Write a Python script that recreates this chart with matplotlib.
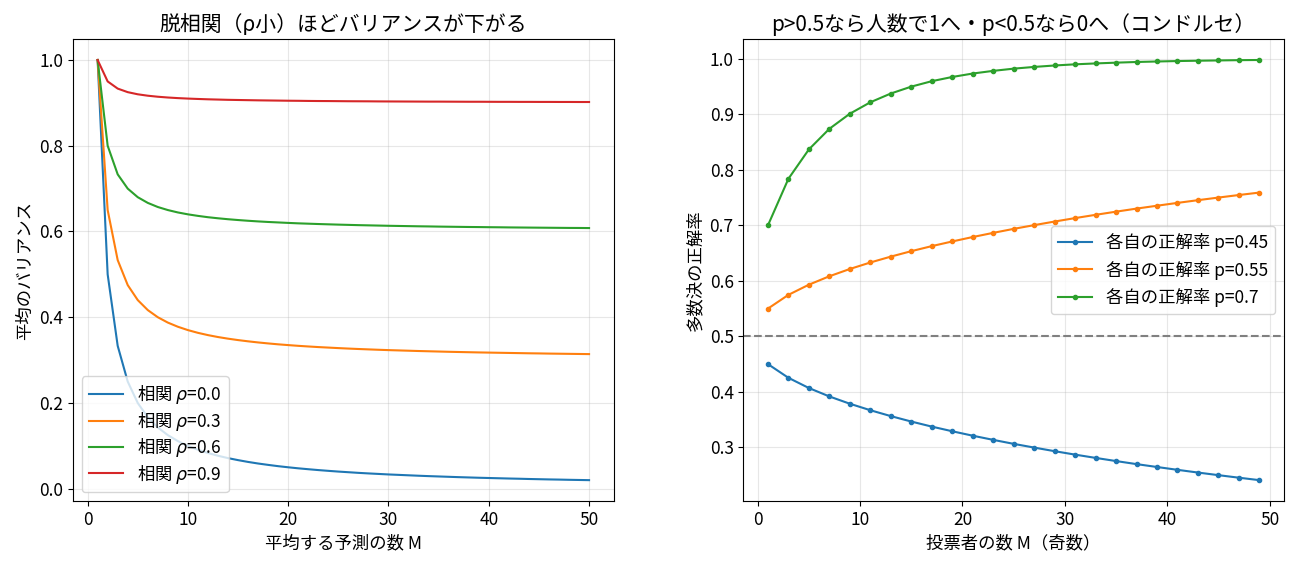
import numpy as np
import matplotlib.pyplot as plt

plt.rcParams['font.family'] = ['Noto Sans CJK JP', 'DejaVu Sans']
plt.rcParams['font.size'] = 12.5
plt.rcParams['axes.unicode_minus'] = False

# 左: 平均する予測の数 M と平均のバリアンス
M = list(range(1, 51))
rhos = [0.0, 0.3, 0.6, 0.9]
var_rho00 = [1.0, 0.5, 0.3333, 0.25, 0.2, 0.1667, 0.1429, 0.125, 0.1111, 0.1,
             0.0909, 0.0833, 0.0769, 0.0714, 0.0667, 0.0625, 0.0588, 0.0556, 0.0526, 0.05,
             0.0476, 0.0455, 0.0435, 0.0417, 0.04, 0.0385, 0.037, 0.0357, 0.0345, 0.0333,
             0.0323, 0.0313, 0.0303, 0.0294, 0.0286, 0.0278, 0.027, 0.0263, 0.0256, 0.025,
             0.0244, 0.0238, 0.0233, 0.0227, 0.0222, 0.0217, 0.0213, 0.0208, 0.0204, 0.02]
var_rho03 = [1.0, 0.65, 0.5333, 0.475, 0.44, 0.4167, 0.4, 0.3875, 0.3778, 0.37,
             0.3636, 0.3583, 0.3538, 0.35, 0.3467, 0.3438, 0.3412, 0.3389, 0.3368, 0.335,
             0.3333, 0.3318, 0.3304, 0.3292, 0.328, 0.3269, 0.3259, 0.325, 0.3241, 0.3233,
             0.3226, 0.3219, 0.3212, 0.3206, 0.32, 0.3194, 0.3189, 0.3184, 0.3179, 0.3175,
             0.3171, 0.3167, 0.3163, 0.3159, 0.3156, 0.3152, 0.3149, 0.3146, 0.3143, 0.314]
var_rho06 = [1.0, 0.8, 0.7333, 0.7, 0.68, 0.6667, 0.6571, 0.65, 0.6444, 0.64,
             0.6364, 0.6333, 0.6308, 0.6286, 0.6267, 0.625, 0.6235, 0.6222, 0.6211, 0.62,
             0.619, 0.6182, 0.6174, 0.6167, 0.616, 0.6154, 0.6148, 0.6143, 0.6138, 0.6133,
             0.6129, 0.6125, 0.6121, 0.6118, 0.6114, 0.6111, 0.6108, 0.6105, 0.6103, 0.61,
             0.6098, 0.6095, 0.6093, 0.6091, 0.6089, 0.6087, 0.6085, 0.6083, 0.6082, 0.608]
var_rho09 = [1.0, 0.95, 0.9333, 0.925, 0.92, 0.9167, 0.9143, 0.9125, 0.9111, 0.91,
             0.9091, 0.9083, 0.9077, 0.9071, 0.9067, 0.9063, 0.9059, 0.9056, 0.9053, 0.905,
             0.9048, 0.9045, 0.9043, 0.9042, 0.904, 0.9038, 0.9037, 0.9036, 0.9034, 0.9033,
             0.9032, 0.9031, 0.903, 0.9029, 0.9029, 0.9028, 0.9027, 0.9026, 0.9026, 0.9025,
             0.9024, 0.9024, 0.9023, 0.9023, 0.9022, 0.9022, 0.9021, 0.9021, 0.902, 0.902]
variances = [var_rho00, var_rho03, var_rho06, var_rho09]

# 右: 投票者の数（奇数）と多数決の正解率
voters = list(range(1, 50, 2))
ps = [0.45, 0.55, 0.7]
acc_p045 = [0.45, 0.4253, 0.4069, 0.3917, 0.3786, 0.3669, 0.3563, 0.3465, 0.3374, 0.329,
            0.321, 0.3135, 0.3063, 0.2996, 0.2931, 0.2869, 0.281, 0.2753, 0.2698, 0.2646,
            0.2595, 0.2546, 0.2499, 0.2453, 0.2409]
acc_p055 = [0.55, 0.5748, 0.5931, 0.6083, 0.6214, 0.6331, 0.6437, 0.6535, 0.6626, 0.671,
            0.679, 0.6865, 0.6937, 0.7004, 0.7069, 0.7131, 0.719, 0.7247, 0.7302, 0.7354,
            0.7405, 0.7454, 0.7501, 0.7547, 0.7591]
acc_p070 = [0.7, 0.784, 0.8369, 0.874, 0.9012, 0.9218, 0.9376, 0.95, 0.9598, 0.9674,
            0.9736, 0.9784, 0.9824, 0.9855, 0.9881, 0.9902, 0.9918, 0.9932, 0.9944, 0.9953,
            0.9961, 0.9967, 0.9972, 0.9977, 0.998]
accuracies = [acc_p045, acc_p055, acc_p070]

fig, (ax1, ax2) = plt.subplots(1, 2, figsize=(12.93, 5.65), dpi=100)
fig.subplots_adjust(left=0.0565, right=0.993, top=0.931, bottom=0.113, wspace=0.24)

for rho, v in zip(rhos, variances):
    ax1.plot(M, v, label=f'相関 $\\rho$={rho}')
ax1.set_xlabel('平均する予測の数 M')
ax1.set_ylabel('平均のバリアンス')
ax1.set_title('脱相関（ρ小）ほどバリアンスが下がる')
ax1.grid(alpha=0.3)
ax1.legend(loc='lower left', labelspacing=0.2)

for p, a in zip(ps, accuracies):
    ax2.plot(voters, a, marker='o', markersize=3, label=f'各自の正解率 p={p}')
ax2.axhline(0.5, color='gray', linestyle='--')
ax2.set_xlabel('投票者の数 M（奇数）')
ax2.set_ylabel('多数決の正解率')
ax2.set_title('p>0.5なら人数で1へ・p<0.5なら0へ（コンドルセ）')
ax2.grid(alpha=0.3)
ax2.legend()

fig.savefig('out.png')
